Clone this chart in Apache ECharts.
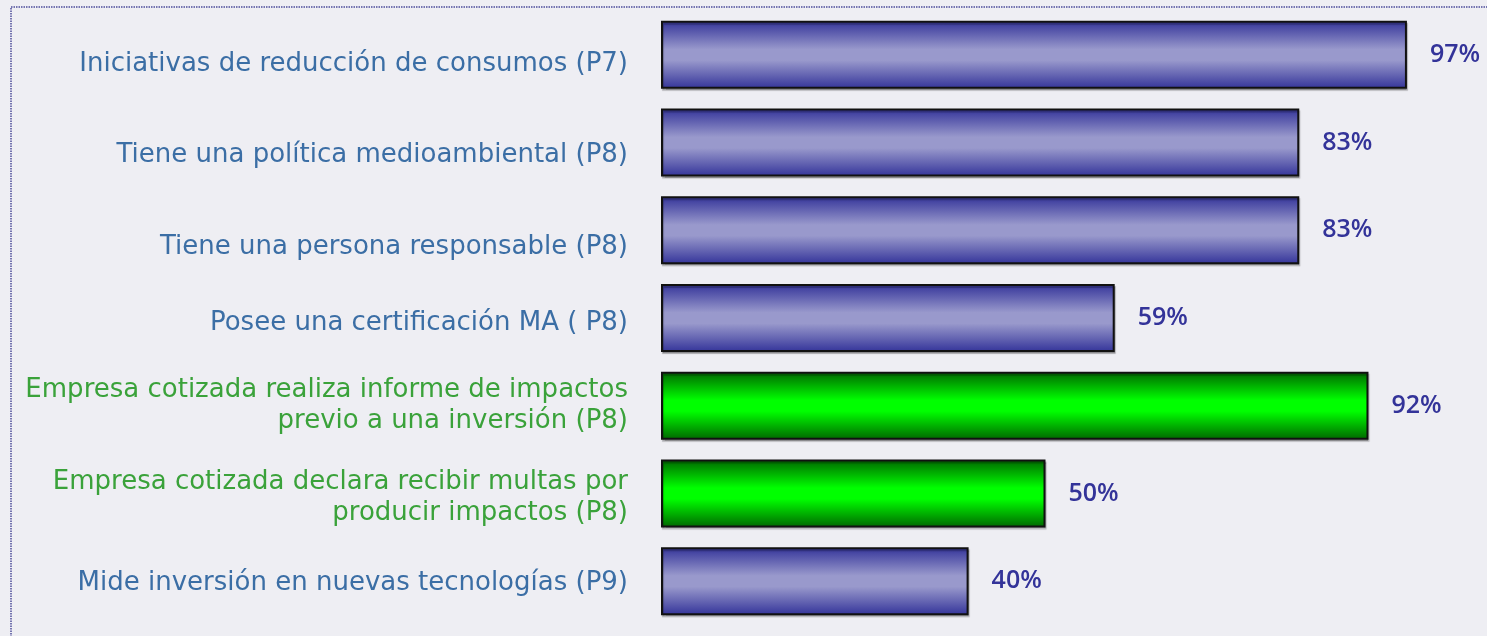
<!DOCTYPE html>
<html>
<head>
<meta charset="utf-8">
<script src="https://cdn.jsdelivr.net/npm/echarts@6/dist/echarts.min.js"></script>
<style>
  html, body { margin: 0; padding: 0; background: #eeeef3; }
  #chart { width: 1487px; height: 636px; }
</style>
</head>
<body>
<div id="chart"></div>
<script>
const categories = [
  'Iniciativas de reducción de consumos (P7)',
  'Tiene una política medioambiental (P8)',
  'Tiene una persona responsable (P8)',
  'Posee una certificación MA ( P8)',
  'Empresa cotizada realiza informe de impactos\nprevio a una inversión (P8)',
  'Empresa cotizada declara recibir multas por\nproducir impactos (P8)',
  'Mide inversión en nuevas tecnologías (P9)'
];
const values = [97, 83, 83, 59, 92, 50, 40];
const highlighted = [false, false, false, false, true, true, false];

// the original labels sit a little below the bar centres
const labelShift = [9, 13, 17, 5, 0, 4, 2];

const blueFill = new echarts.graphic.LinearGradient(0, 0, 0, 1, [
  { offset: 0, color: '#333399' },
  { offset: 0.42, color: '#9999cc' },
  { offset: 0.58, color: '#9999cc' },
  { offset: 1, color: '#333399' }
]);
const greenFill = new echarts.graphic.LinearGradient(0, 0, 0, 1, [
  { offset: 0, color: '#006600' },
  { offset: 0.42, color: '#00ff00' },
  { offset: 0.58, color: '#00ff00' },
  { offset: 1, color: '#006600' }
]);

const labelFont = { fontFamily: 'DejaVu Sans', fontSize: 26, lineHeight: 31 };
const rich = {
  b: Object.assign({ color: '#3b6ea5' }, labelFont),
  g: Object.assign({ color: '#3aa23a' }, labelFont)
};
labelShift.forEach((d, i) => {
  rich['gap' + i] = { fontSize: 1, lineHeight: 2 * d };
});

const chart = echarts.init(document.getElementById('chart'));

chart.setOption({
  backgroundColor: '#eeeef3',
  animation: false,
  graphic: [{
    type: 'rect',
    shape: { x: 11, y: 7, width: 1490, height: 640 },
    style: { fill: 'none', stroke: '#7474b0', lineWidth: 2, lineDash: [1.5, 1] },
    silent: true
  }],
  grid: { left: 661, right: 57, top: 11, bottom: 11 },
  xAxis: {
    type: 'value', min: 0, max: 100, show: false
  },
  yAxis: {
    type: 'category',
    inverse: true,
    data: categories,
    axisLine: { show: false },
    axisTick: { show: false },
    axisLabel: {
      margin: 33,
      align: 'right',
      formatter: (value, i) => {
        const key = highlighted[i] ? 'g' : 'b';
        const lines = value.split('\n').map(l => '{' + key + '|' + l + '}');
        const gap = labelShift[i] > 0 ? '{gap' + i + '| }\n' : '';
        return gap + lines.join('\n');
      },
      rich: rich
    }
  },
  series: [{
    type: 'bar',
    barWidth: 68,
    data: values.map((v, i) => ({
      value: v,
      itemStyle: { color: highlighted[i] ? greenFill : blueFill }
    })),
    itemStyle: {
      borderColor: '#111111',
      borderWidth: 2,
      shadowColor: 'rgba(0,0,0,0.25)',
      shadowOffsetX: 1,
      shadowOffsetY: 2,
      shadowBlur: 1
    },
    label: {
      show: true,
      position: 'right',
      distance: 23,
      formatter: '{c}%',
      color: '#333399',
      fontFamily: 'Open Sans',
      fontWeight: 600,
      fontSize: 25
    }
  }]
});
</script>
</body>
</html>
